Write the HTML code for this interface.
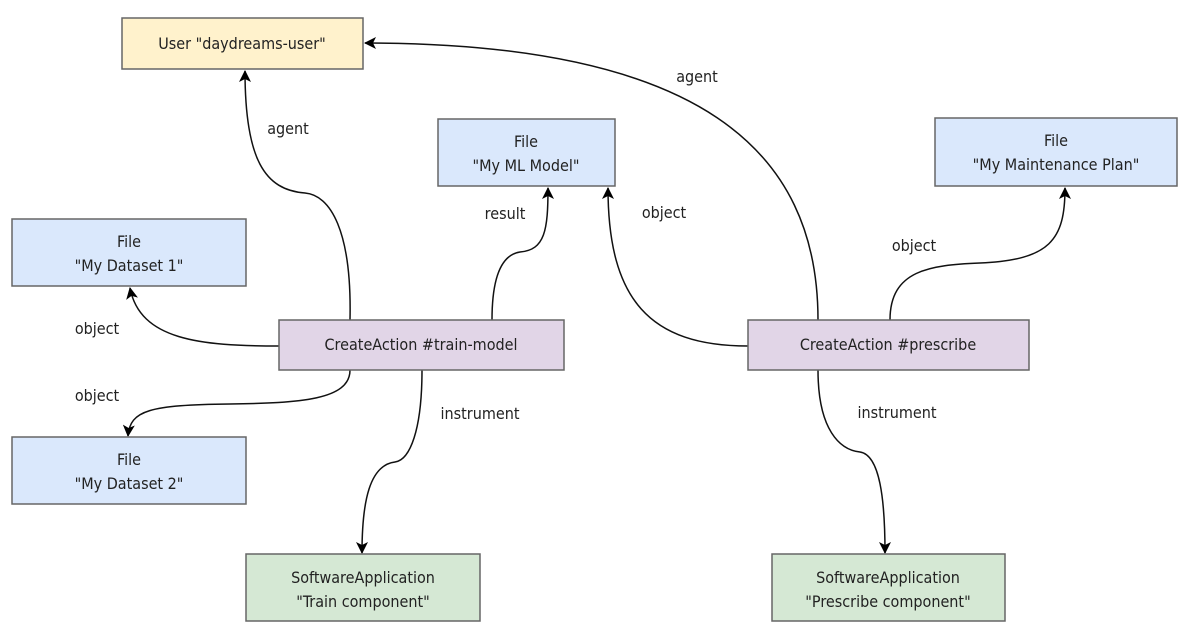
<!DOCTYPE html>
<html><head><meta charset="utf-8"><style>
body{margin:0;background:#fff;width:1192px;height:631px;overflow:hidden;font-family:"Liberation Sans",sans-serif;}
svg text{font-family:"DejaVu Sans Condensed","Liberation Sans",sans-serif;font-size:16px;fill:#222;}
</style></head><body>
<svg width="1192" height="631" xmlns="http://www.w3.org/2000/svg">
<defs><marker id="a" markerWidth="12" markerHeight="12" refX="11" refY="6" orient="auto" markerUnits="userSpaceOnUse"><path d="M0,0 L12,6 L0,12 L3,6 Z" fill="#000"/></marker></defs>
<g fill="none" stroke="#111" stroke-width="1.5" marker-end="url(#a)">
<path d="M350,320 C352,230 330,195 305,193 C265,190 245,160 245,71"/>
<path d="M492,320 C492,280 500,255 520,252 C545,250 548,230 548,188"/>
<path d="M279,346 C200,346 140,340 130,288"/>
<path d="M350,370 C350,400 300,403 230,404 C150,405 130,410 128,436"/>
<path d="M422,370 C422,430 410,460 395,462 C370,465 362,500 362,553"/>
<path d="M818,320 C818,150 700,43 365,43"/>
<path d="M748,346 C650,346 608,300 608,188"/>
<path d="M890,320 C890,270 930,265 980,263 C1050,260 1065,240 1065,188"/>
<path d="M818,370 C818,430 840,450 860,452 C880,455 885,500 885,553"/>
</g>
<g stroke="#666" stroke-width="1.5">
<rect x="122" y="18" width="241" height="51" fill="#fff2cc"/>
<rect x="438" y="119" width="177" height="67" fill="#dae8fc"/>
<rect x="12" y="219" width="234" height="67" fill="#dae8fc"/>
<rect x="12" y="437" width="234" height="67" fill="#dae8fc"/>
<rect x="935" y="118" width="242" height="68" fill="#dae8fc"/>
<rect x="279" y="320" width="285" height="50" fill="#e1d5e7"/>
<rect x="748" y="320" width="281" height="50" fill="#e1d5e7"/>
<rect x="246" y="554" width="234" height="67" fill="#d5e8d4"/>
<rect x="772" y="554" width="233" height="67" fill="#d5e8d4"/>
</g>
<g text-anchor="middle">
<text x="242" y="49">User "daydreams-user"</text>
<text x="526" y="147">File</text><text x="526" y="171">"My ML Model"</text>
<text x="129" y="247">File</text><text x="129" y="271">"My Dataset 1"</text>
<text x="129" y="465">File</text><text x="129" y="489">"My Dataset 2"</text>
<text x="1056" y="146">File</text><text x="1056" y="170">"My Maintenance Plan"</text>
<text x="421" y="350">CreateAction #train-model</text>
<text x="888" y="350">CreateAction #prescribe</text>
<text x="363" y="583">SoftwareApplication</text><text x="363" y="607">"Train component"</text>
<text x="888" y="583">SoftwareApplication</text><text x="888" y="607">"Prescribe component"</text>
<text x="288" y="134">agent</text>
<text x="505" y="219">result</text>
<text x="97" y="334">object</text>
<text x="97" y="401">object</text>
<text x="480" y="419">instrument</text>
<text x="697" y="82">agent</text>
<text x="664" y="218">object</text>
<text x="914" y="251">object</text>
<text x="897" y="418">instrument</text>
</g>
</svg>
</body></html>
